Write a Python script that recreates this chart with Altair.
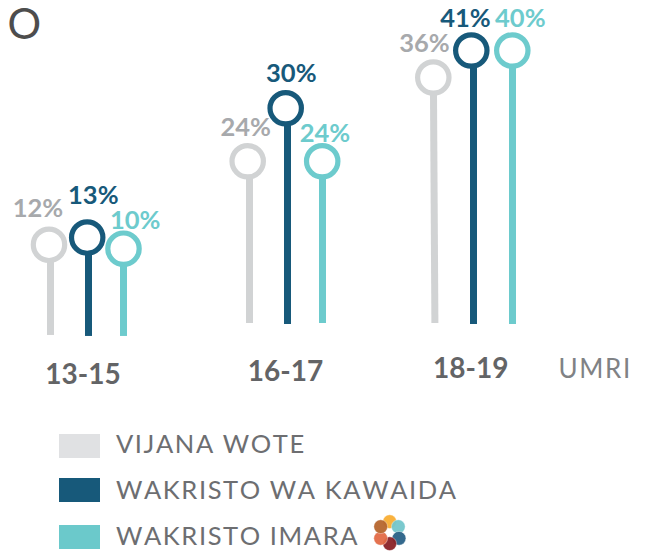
import altair as alt
import pandas as pd

FONT = "Lato"
HS = "\u200a"

ages = ["13-15", "16-17", "18-19"]
groups = ["VIJANA WOTE", "WAKRISTO WA KAWAIDA", "WAKRISTO IMARA"]
colors = ["#d1d3d4", "#17597a", "#6dcbcd"]
label_colors = ["#a7a9ac", "#17597a", "#6dcbcd"]
legend_colors = ["#e0e1e3", "#17597a", "#6bc9cb"]

# printed percentages, per age band and group
printed = [12, 13, 10, 24, 30, 24, 36, 41, 40]
# heights as drawn in the picture (in percent units)
drawn_top = [11.91, 13.0, 11.32, 24.47, 32.44, 24.47, 37.07, 41.13, 41.13]
drawn_base = [-1.65, -1.8, -1.8, 0.15, 0, 0.15, 0.15, 0, 0]
label_level = [16.05, 18.05, 14.29, 28.32, 36.44, 27.41, 40.95, 44.71, 44.71]

# horizontal layout readings
stem_top_x = [50.5, 88.5, 123.5, 249.5, 287.5, 322.5, 433.4, 473.5, 512.5]
stem_base_x = [50.5, 88.5, 123.5, 249.5, 287.5, 322.5, 434.9, 473.5, 512.5]
circle_x = [49, 87.2, 123.5, 247.7, 285.7, 322.2, 433.3, 471.3, 512.3]
label_x = [38, 93.3, 135.2, 245.7, 291.3, 325, 424.5, 465.5, 520.3]

rows = []
for i, (a, g) in enumerate((a, g) for a in ages for g in groups):
    rows.append(dict(age=a, group=g, printed=f"{printed[i]}%", top=drawn_top[i], base=drawn_base[i],
                     lvl=label_level[i], sx=stem_top_x[i], sx2=stem_base_x[i], cx=circle_x[i], lx=label_x[i]))
df = pd.DataFrame(rows)

X = alt.Scale(domain=[8, 638], range=[0, 630], nice=False, zero=False)
Y = alt.Scale(domain=[-34.29, 47.52], range=[544, 0], nice=False, zero=False)
color = alt.Color("group:N", scale=alt.Scale(domain=groups, range=colors), legend=None)
label_color = alt.Color("group:N", scale=alt.Scale(domain=groups, range=label_colors), legend=None)


def xq(f):
    return alt.X(f, type="quantitative", scale=X, axis=None)


def yq(f):
    return alt.Y(f, type="quantitative", scale=Y, axis=None)


stems = alt.Chart(df).mark_rule(strokeWidth=7).encode(
    x=xq("sx"), x2="sx2", y=yq("top"), y2="base", color=color)
circles = alt.Chart(df).mark_point(filled=False, fill="white", fillOpacity=1, size=985, strokeWidth=5.2, opacity=1).encode(
    x=xq("cx"), y=yq("top"), color=color)
labels = alt.Chart(df).mark_text(font=FONT, fontWeight="bold", fontSize=25.5, align="center", baseline="alphabetic").encode(
    x=xq("lx"), y=yq("lvl"), text="printed", color=label_color)

# age labels
age_df = pd.DataFrame(dict(age=ages, x=[83, 285.5, 470.8], y=[-8.98, -8.57, -8.07]))
age_text = alt.Chart(age_df).mark_text(font=FONT, fontWeight="bold", fontSize=28, color="#636466",
                                       align="center", baseline="alphabetic").encode(
    x=xq("x"), y=yq("y"), text="age")

umri = alt.Chart(pd.DataFrame(dict(t=[HS.join("UMRI")], x=[558.5], y=[-8.07]))).mark_text(
    font=FONT, fontSize=26, color="#808285", align="left", baseline="alphabetic").encode(
    x=xq("x"), y=yq("y"), text="t")

title = alt.Chart(pd.DataFrame(dict(t=["O"], x=[7.5], y=[42.93]))).mark_text(
    font=FONT, fontSize=42, color="#4d4d4d", align="left", baseline="alphabetic").encode(
    x=xq("x"), y=yq("y"), text="t")

# legend
leg_df = pd.DataFrame(dict(
    group=groups,
    t=[HS.join(g) for g in groups],
    x=[59] * 3, x2=[100] * 3, tx=[116] * 3,
    y1=[-16.54, -23.16, -30.23], y2=[-20.15, -26.77, -33.84],
    ty=[-19.35, -26.27, -33.28],
))
swatches = alt.Chart(leg_df).mark_rect().encode(
    x=xq("x"), x2="x2", y=yq("y1"), y2="y2",
    color=alt.Color("group:N", scale=alt.Scale(domain=groups, range=legend_colors), legend=None))
leg_text = alt.Chart(leg_df).mark_text(font=FONT, fontSize=25.5, color="#6d6e71", align="left", baseline="alphabetic").encode(
    x=xq("tx"), y=yq("ty"), text="t")

# flower logo
petal_colors = ["#f9ae34", "#74c7cc", "#2a6287", "#8b2228", "#e36b46", "#b7672f"]
petal_x = [389.7, 398.3, 399, 389.7, 380.7, 380.7]
petal_lvl = [-29.73, -30.48, -32.23, -33.04, -32.23, -30.48]
petals = alt.Chart(pd.DataFrame(dict(c=petal_colors, x=petal_x, y=petal_lvl))).mark_circle(
    size=190, opacity=0.95, stroke="white", strokeWidth=0.4).encode(
    x=xq("x"), y=yq("y"), color=alt.Color("c:N", scale=None))

chart = alt.layer(title, stems, circles, labels, age_text, umri, swatches, leg_text, petals).resolve_scale(
    color="independent"
).properties(
    width=630, height=544, padding=0, autosize=alt.AutoSizeParams(type="none"),
).configure_view(stroke=None)

chart.save("out.html", embed_options={"renderer": "svg", "actions": False})
